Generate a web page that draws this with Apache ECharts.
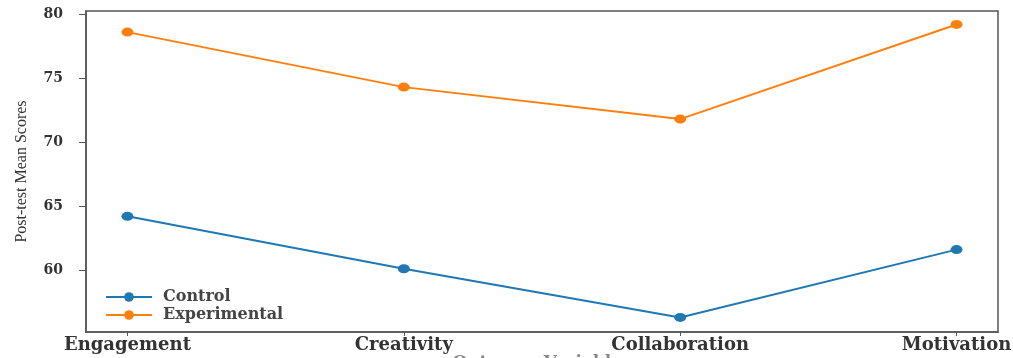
<!DOCTYPE html>
<html>
<head>
<meta charset="utf-8">
<script src="https://cdn.jsdelivr.net/npm/echarts@6/dist/echarts.min.js"></script>
<style>
  html, body { margin: 0; padding: 0; background: #fff; }
  #chart { width: 1013px; height: 358px; }
</style>
</head>
<body>
<div id="chart"></div>
<script>
const categories = ['Engagement', 'Creativity', 'Collaboration', 'Motivation'];
const controlScores = [64.2, 60.1, 56.3, 61.6];
const experimentalScores = [78.6, 74.3, 71.8, 79.2];
const yTicks = [60, 65, 70, 75, 80];

const chart = echarts.init(document.getElementById('chart'));

// x as a value axis so the category margins match matplotlib's 5% padding
const toPoints = (vals) => vals.map((v, i) => [i, v]);

chart.setOption({
  animation: false,
  grid: {
    left: 86, right: 15, top: 11, bottom: 26,
    outerBoundsMode: 'none',
    show: true,
    borderColor: '#555',
    borderWidth: 1.5,
  },
  legend: {
    left: 100,
    top: 284,
    orient: 'vertical',
    itemGap: 2,
    itemWidth: 46,
    itemHeight: 12,
    textStyle: {
      fontFamily: 'DejaVu Serif', fontSize: 16, fontWeight: 'bold', color: '#444',
      padding: [0, 0, 0, 6],
    },
    data: ['Control', 'Experimental'],
  },
  xAxis: {
    type: 'value',
    min: -0.15,
    max: 3.15,
    name: 'Outcome Variables',
    nameLocation: 'middle',
    nameGap: 22,
    nameMoveOverlap: false,
    nameTextStyle: {
      fontFamily: 'DejaVu Serif', fontSize: 17, fontWeight: 'bold', color: '#888',
      verticalAlign: 'top',
    },
    splitLine: { show: false },
    axisLine: { show: true, onZero: false, lineStyle: { color: '#555', width: 1.5 } },
    axisTick: { show: true, customValues: [0, 1, 2, 3], length: 4, lineStyle: { color: '#555' } },
    axisLabel: {
      customValues: [0, 1, 2, 3],
      formatter: (v) => categories[Math.round(v)],
      fontFamily: 'DejaVu Serif',
      fontSize: 18,
      fontWeight: 'bold',
      color: '#333',
      margin: 4,
    },
  },
  yAxis: {
    type: 'value',
    min: 55.16,
    max: 80.25,
    name: 'Post-test Mean Scores',
    nameLocation: 'middle',
    nameGap: 56,
    nameTextStyle: { fontFamily: 'Liberation Serif', fontSize: 16, color: '#333' },
    splitLine: { show: false },
    axisLine: { show: true, onZero: false, lineStyle: { color: '#555', width: 1.5 } },
    axisTick: { show: true, customValues: yTicks, length: 7, lineStyle: { color: '#555' } },
    axisLabel: {
      customValues: yTicks,
      fontFamily: 'DejaVu Serif',
      fontSize: 14,
      fontWeight: 'bold',
      color: '#333',
      margin: 23,
    },
  },
  series: [
    {
      name: 'Control',
      type: 'line',
      data: toPoints(controlScores),
      color: '#1f77b4',
      symbol: 'circle',
      symbolSize: [12, 9],
      lineStyle: { width: 2 },
    },
    {
      name: 'Experimental',
      type: 'line',
      data: toPoints(experimentalScores),
      color: '#ff7f0e',
      symbol: 'circle',
      symbolSize: [12, 9],
      lineStyle: { width: 2 },
    },
  ],
});
</script>
</body>
</html>
